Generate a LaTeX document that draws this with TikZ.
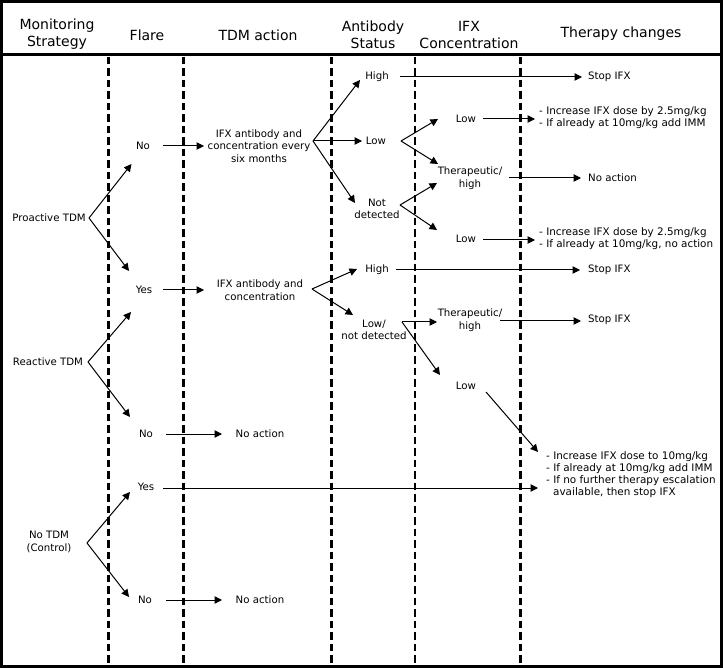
\documentclass[tikz,border=0pt]{standalone}
\usepackage{fontspec}
\setmainfont{DejaVu Sans}
\usetikzlibrary{arrows.meta}
\begin{document}
\begin{tikzpicture}[x=1pt,y=-1pt,
  lbl/.style={font=\fontsize{10.2}{12.5}\selectfont, align=center, inner sep=1pt},
  hdr/.style={font=\fontsize{14}{17}\selectfont, align=center, inner sep=1pt},
  txt/.style={font=\fontsize{10.4}{12}\selectfont, align=left, anchor=west, inner sep=0pt},
  arr/.style={line width=1pt, -{Triangle[length=7.5pt,width=7.5pt]}},
  sep/.style={line width=2.5pt, dash pattern=on 7.5pt off 4pt},
  frame/.style={line width=3pt}]
\useasboundingbox (0,0) rectangle (723,668);
% frame and header line
\draw[frame] (1.5,1.5) rectangle (721.5,666);
\draw[frame] (0,55) -- (723,55);
% column separators
\foreach \xx/\nm in {108.5/s1,183.5/s2,331.5/s3,415/s4,520.5/s5}{
  \coordinate (\nm-top) at (\xx,57);
  \coordinate (\nm-bot) at (\xx,664);
  \draw[sep] (\nm-top) -- (\nm-bot);
}
% headers
\node[hdr] (h1) at (57,34) {Monitoring\\Strategy};
\node[hdr] (h2) at (147,35) {Flare};
\node[hdr] (h3) at (258,35) {TDM action};
\node[hdr] (h4) at (373,35) {Antibody\\Status};
\node[hdr] (h5) at (469,35) {IFX\\Concentration};
\node[hdr] (h6) at (621,34) {Therapy changes};
% strategy column
\node[lbl] (pro) at (49,218) {Proactive TDM};
\node[lbl] (rea) at (48,362) {Reactive TDM};
\node[lbl] (ctl) at (49,542) {No TDM\\(Control)};
% flare column
\node[lbl] (no1) at (143,146) {No};
\node[lbl] (yes1) at (144,290) {Yes};
\node[lbl] (no2) at (146,434) {No};
\node[lbl] (yes2) at (146,487) {Yes};
\node[lbl] (no3) at (145,600) {No};
% TDM action column
\node[lbl] (tdm1) at (259,146) {IFX antibody and\\concentration every\\six months};
\node[lbl] (tdm2) at (260,290) {IFX antibody and\\concentration};
\node[lbl] (na1) at (260,434) {No action};
\node[lbl] (na2) at (260,600) {No action};
% antibody column
\node[lbl] (hi1) at (377,77) {High};
\node[lbl] (lo1) at (376,141) {Low};
\node[lbl] (nd1) at (377,209) {Not\\detected};
\node[lbl] (hi2) at (377,270) {High};
\node[lbl] (lnd) at (374,330) {Low/\\not detected};
% IFX concentration column
\node[lbl] (clo1) at (466,119) {Low};
\node[lbl] (th1) at (470,178) {Therapeutic/\\high};
\node[lbl] (clo2) at (466,239) {Low};
\node[lbl] (th2) at (470,320) {Therapeutic/\\high};
\node[lbl] (clo3) at (466,386) {Low};
% therapy changes column
\node[lbl,anchor=west] (stop1) at (587,77) {Stop IFX};
\node[txt] (t1) at (539,117.5) {- Increase IFX dose by 2.5mg/kg\\- If already at 10mg/kg add IMM};
\node[lbl,anchor=west] (na3) at (587,178) {No action};
\node[txt] (t2) at (539,239) {- Increase IFX dose by 2.5mg/kg\\- If already at 10mg/kg, no action};
\node[lbl,anchor=west] (stop2) at (587,270) {Stop IFX};
\node[lbl,anchor=west] (stop3) at (587,320) {Stop IFX};
\node[txt] (t3) at (546,475) {- Increase IFX dose to 10mg/kg\\- If already at 10mg/kg add IMM\\- If no further therapy escalation\\\hspace*{7pt}available, then stop IFX};
% connector points
\coordinate (proB) at (89,218);
\coordinate (reaB) at (88,362);
\coordinate (ctlB) at (87,543);
\coordinate (no1T) at (131.5,164);
\coordinate (yes1T) at (129,271);
\coordinate (yes1Tr) at (131,312);
\coordinate (no2T) at (130,417);
\coordinate (yes2T) at (130,492);
\coordinate (no3T) at (129,597);
\coordinate (no1o) at (163,146);  \coordinate (tdm1i) at (204,146);
\coordinate (yes1o) at (163,290); \coordinate (tdm2i) at (204,290);
\coordinate (no2o) at (166,434);  \coordinate (na1i) at (222,434);
\coordinate (no3o) at (166,600);  \coordinate (na2i) at (222,600);
\coordinate (yes2o) at (163,488); \coordinate (t3i) at (538,488);
\coordinate (tdm1B) at (313,141);
\coordinate (hi1T) at (360,80);
\coordinate (lo1T) at (362,141);
\coordinate (nd1T) at (355,203);
\coordinate (hi1o) at (400,77);  \coordinate (stop1i) at (582,77);
\coordinate (lo1B) at (401,141);
\coordinate (clo1T) at (438,119);
\coordinate (th1T) at (438,164);
\coordinate (clo1o) at (483,119); \coordinate (t1i) at (535,119);
\coordinate (th1o) at (509,178);  \coordinate (na3i) at (581,178);
\coordinate (nd1B) at (400,205);
\coordinate (th1Tb) at (437,183);
\coordinate (clo2T) at (437,230);
\coordinate (clo2o) at (483,240); \coordinate (t2i) at (535,240);
\coordinate (tdm2B) at (312,289);
\coordinate (hi2T) at (357,269);
\coordinate (lndT) at (353,315);
\coordinate (hi2o) at (396,270); \coordinate (stop2i) at (580,270);
\coordinate (lndB) at (402,322);
\coordinate (th2T) at (437,322);
\coordinate (clo3T) at (440,375);
\coordinate (th2o) at (500,321); \coordinate (stop3i) at (581,321);
\coordinate (clo3o) at (486,392); \coordinate (t3d) at (538,452);
% connectors
\draw[arr] (proB) -- (no1T);
\draw[arr] (proB) -- (yes1T);
\draw[arr] (reaB) -- (yes1Tr);
\draw[arr] (reaB) -- (no2T);
\draw[arr] (ctlB) -- (yes2T);
\draw[arr] (ctlB) -- (no3T);
\draw[arr] (no1o) -- (tdm1i);
\draw[arr] (yes1o) -- (tdm2i);
\draw[arr] (no2o) -- (na1i);
\draw[arr] (no3o) -- (na2i);
\draw[arr] (yes2o) -- (t3i);
\draw[arr] (tdm1B) -- (hi1T);
\draw[arr] (tdm1B) -- (lo1T);
\draw[arr] (tdm1B) -- (nd1T);
\draw[arr] (hi1o) -- (stop1i);
\draw[arr] (lo1B) -- (clo1T);
\draw[arr] (lo1B) -- (th1T);
\draw[arr] (clo1o) -- (t1i);
\draw[arr] (th1o) -- (na3i);
\draw[arr] (nd1B) -- (th1Tb);
\draw[arr] (nd1B) -- (clo2T);
\draw[arr] (clo2o) -- (t2i);
\draw[arr] (tdm2B) -- (hi2T);
\draw[arr] (tdm2B) -- (lndT);
\draw[arr] (hi2o) -- (stop2i);
\draw[arr] (lndB) -- (th2T);
\draw[arr] (lndB) -- (clo3T);
\draw[arr] (th2o) -- (stop3i);
\draw[arr] (clo3o) -- (t3d);
\end{tikzpicture}
\end{document}
